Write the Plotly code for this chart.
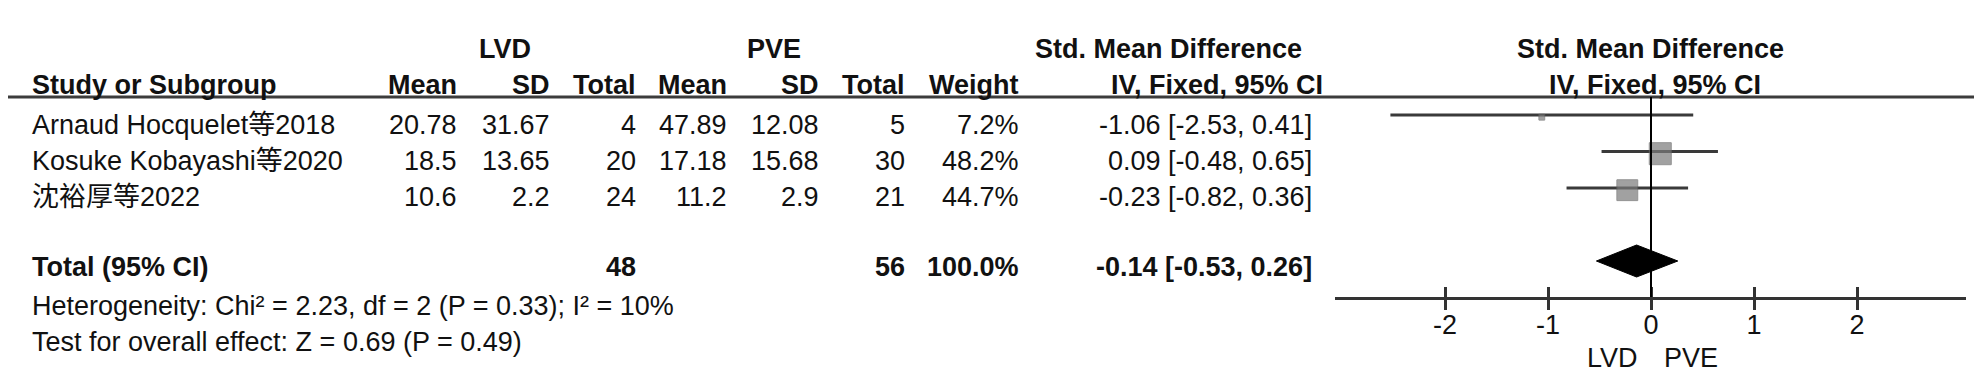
import plotly.graph_objects as go

W, H = 1982, 381

# ---------------- data ----------------
studies = ["Arnaud Hocquelet等2018", "Kosuke Kobayashi等2020", "沈裕厚等2022"]
lvd_mean = [20.78, 18.5, 10.6]
lvd_sd = [31.67, 13.65, 2.2]
lvd_total = [4, 20, 24]
pve_mean = [47.89, 17.18, 11.2]
pve_sd = [12.08, 15.68, 2.9]
pve_total = [5, 30, 21]
weights = [7.2, 48.2, 44.7]
smd = [-1.06, 0.09, -0.23]
ci_low = [-2.53, -0.48, -0.82]
ci_high = [0.41, 0.65, 0.36]

total_label = "Total (95% CI)"
total_lvd = 48
total_pve = 56
total_weight = 100.0
total_smd = -0.14
total_low = -0.53
total_high = 0.26

heterogeneity = "Heterogeneity: Chi² = 2.23, df = 2 (P = 0.33); I² = 10%"
overall_effect = "Test for overall effect: Z = 0.69 (P = 0.49)"

group_labels = ["LVD", "PVE"]
tick_vals = [-2, -1, 0, 1, 2]
tick_text = ["-2", "-1", "0", "1", "2"]
effect_title = "Std. Mean Difference"
method_title = "IV, Fixed, 95% CI"

# ---------------- layout helpers ----------------
FONT = "Liberation Sans, Arial, Noto Sans CJK SC, sans-serif"
FS = 27
TXT = "#111111"


def px(x):
    return x / W


def py(y):
    return 1 - y / H


annotations = []


def add_text(text, x, y, anchor="left", bold=False, size=FS, color=TXT):
    if bold:
        text = "<b>" + text + "</b>"
    annotations.append(dict(
        text=text, x=px(x), y=py(y), xref="paper", yref="paper",
        xanchor=anchor, yanchor="middle", showarrow=False,
        font=dict(family=FONT, size=size, color=color), borderpad=0,
    ))


# header row 1
add_text("LVD", 497, 41, "center", bold=True)
add_text("PVE", 766, 41, "center", bold=True)
add_text(effect_title, 1160, 41, "center", bold=True)
add_text(effect_title, 1642, 41, "center", bold=True)

# header row 2
HY = 77
add_text("Study or Subgroup", 23, HY, "left", bold=True)
cols = dict(lm=450, ls=543, lt=629, pm=720, ps=812, pt=898, w=1012, ci=1305)
add_text("Mean", cols["lm"], HY, "right", bold=True)
add_text("SD", cols["ls"], HY, "right", bold=True)
add_text("Total", cols["lt"], HY, "right", bold=True)
add_text("Mean", cols["pm"], HY, "right", bold=True)
add_text("SD", cols["ps"], HY, "right", bold=True)
add_text("Total", cols["pt"], HY, "right", bold=True)
add_text("Weight", cols["w"], HY, "right", bold=True)
add_text(method_title, 1316, HY, "right", bold=True)
add_text(method_title, 1647, HY, "center", bold=True)

row_y = [117, 153, 189]
for i, name in enumerate(studies):
    y = row_y[i]
    add_text(name, 23, y, "left")
    add_text(str(lvd_mean[i]), cols["lm"], y, "right")
    add_text(str(lvd_sd[i]), cols["ls"], y, "right")
    add_text(str(lvd_total[i]), cols["lt"], y, "right")
    add_text(str(pve_mean[i]), cols["pm"], y, "right")
    add_text(str(pve_sd[i]), cols["ps"], y, "right")
    add_text(str(pve_total[i]), cols["pt"], y, "right")
    add_text(f"{weights[i]:.1f}%", cols["w"], y, "right")
    add_text(f"{smd[i]:.2f} [{ci_low[i]:.2f}, {ci_high[i]:.2f}]", cols["ci"], y, "right")

TY = 259
add_text(total_label, 23, TY, "left", bold=True)
add_text(str(total_lvd), cols["lt"], TY, "right", bold=True)
add_text(str(total_pve), cols["pt"], TY, "right", bold=True)
add_text(f"{total_weight:.1f}%", cols["w"], TY, "right", bold=True)
add_text(f"{total_smd:.2f} [{total_low:.2f}, {total_high:.2f}]", cols["ci"], TY, "right", bold=True)

add_text(heterogeneity, 23, 298, "left")
add_text(overall_effect, 23, 334, "left")

# favours labels under the axis
add_text(group_labels[0], 1604, 350, "center")
add_text(group_labels[1], 1683, 350, "center")

# ---------------- forest plot ----------------
ZERO_PX, UNIT_PX = 1643, 103.0
AX_L, AX_R = 1327, 1958
x_range = [(AX_L - ZERO_PX) / UNIT_PX, (AX_R - ZERO_PX) / UNIT_PX]
TOP_PX, BOT_PX = 89, 289
ROW0_PX, ROW_STEP = 107, 36.5
y_range = [(BOT_PX - ROW0_PX) / ROW_STEP, (TOP_PX - ROW0_PX) / ROW_STEP]

fig = go.Figure()

row_idx = list(range(len(studies)))
total_idx = len(studies) + 1

# CI lines
ci_x, ci_y = [], []
for i in row_idx:
    ci_x += [ci_low[i], ci_high[i], None]
    ci_y += [i, i, None]
fig.add_trace(go.Scatter(
    x=ci_x, y=ci_y, mode="lines", xaxis="x2", yaxis="y2",
    line=dict(color="#3a3a3a", width=3), hoverinfo="skip", showlegend=False,
))

# weight squares
sizes = [22 * (w / max(weights)) ** 0.7 for w in weights]
fig.add_trace(go.Scatter(
    x=smd, y=[i + 0.06 for i in row_idx], mode="markers", xaxis="x2", yaxis="y2",
    marker=dict(symbol="square", size=sizes, color="#7a7a7a",
                line=dict(color="#666666", width=1)),
    hoverinfo="skip", showlegend=False,
))

# diamond
dh = 16 / ROW_STEP
fig.add_trace(go.Scatter(
    x=[total_low, total_smd, total_high, total_smd, total_low],
    y=[total_idx, total_idx - dh, total_idx, total_idx + dh, total_idx],
    mode="lines", fill="toself", fillcolor="#000000", xaxis="x2", yaxis="y2",
    line=dict(color="#000000", width=1), hoverinfo="skip", showlegend=False,
))

# invisible trace for the inner-tick overlay axis
fig.add_trace(go.Scatter(
    x=[0], y=[0], mode="markers", xaxis="x3", yaxis="y2",
    marker=dict(opacity=0), hoverinfo="skip", showlegend=False,
))

shapes = [
    # header rule
    dict(type="line", xref="paper", yref="paper", x0=0, x1=1, y0=py(89), y1=py(89),
         line=dict(color="#3c3c3c", width=3)),
    # bottom border
    dict(type="line", xref="paper", yref="paper", x0=0, x1=1, y0=py(380), y1=py(380),
         line=dict(color="#cfcfcf", width=2)),
    # line of no effect
    dict(type="line", xref="x2", yref="y2 domain", x0=0, x1=0, y0=0, y1=1,
         line=dict(color="#000000", width=2)),
]

axis_common = dict(
    domain=[px(AX_L), px(AX_R)], range=x_range, anchor="y2",
    showgrid=False, zeroline=False, fixedrange=True,
)

fig.update_layout(
    width=W, height=H,
    margin=dict(l=0, r=0, t=0, b=0),
    paper_bgcolor="white", plot_bgcolor="rgba(0,0,0,0)",
    showlegend=False,
    font=dict(family=FONT, size=FS, color=TXT),
    xaxis=dict(visible=False, domain=[0, 0.01]),
    yaxis=dict(visible=False, domain=[0, 0.01]),
    xaxis2=dict(
        **axis_common,
        showline=True, linecolor="#333333", linewidth=3,
        ticks="outside", ticklen=10, tickwidth=2.5, tickcolor="#333333",
        tickvals=tick_vals, ticktext=tick_text, ticklabelstandoff=-8,
        tickfont=dict(family=FONT, size=FS, color=TXT),
    ),
    xaxis3=dict(
        **axis_common, overlaying="x2",
        showline=False, ticks="inside", ticklen=10, tickwidth=2.5, tickcolor="#333333",
        tickvals=tick_vals, showticklabels=False,
    ),
    yaxis2=dict(
        domain=[py(BOT_PX), py(TOP_PX)], range=y_range, anchor="x2",
        visible=False, fixedrange=True,
    ),
    shapes=shapes,
    annotations=annotations,
)

fig.write_html("out.html")
